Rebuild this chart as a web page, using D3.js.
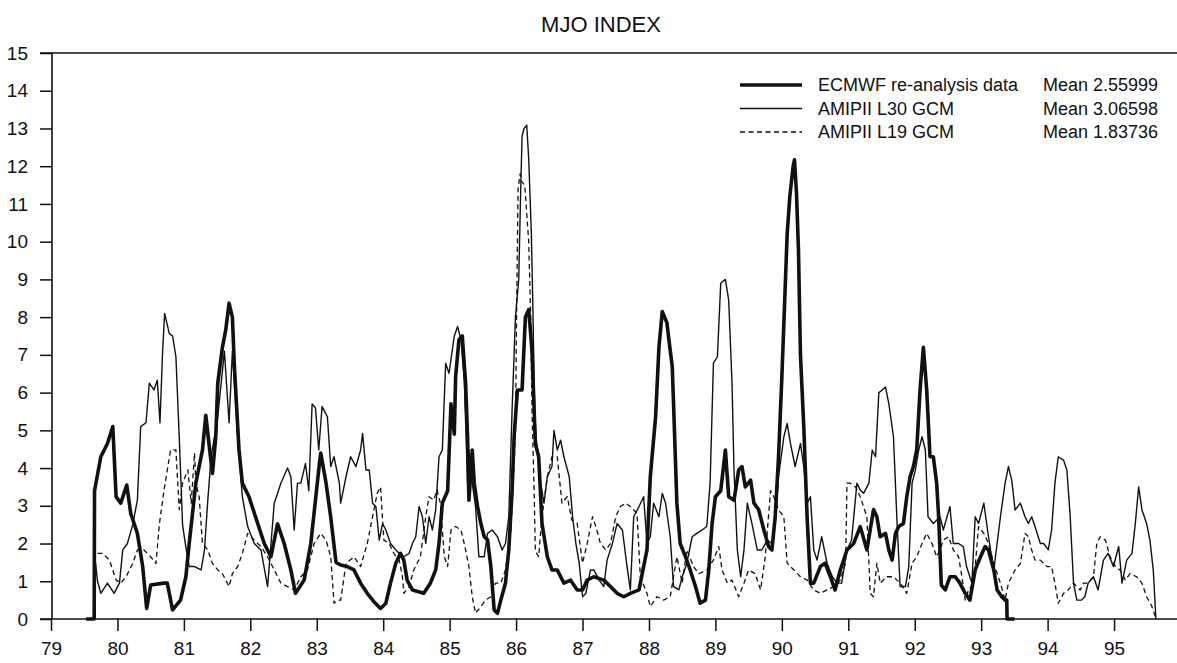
<!DOCTYPE html>
<html>
<head>
<meta charset="utf-8">
<script src="https://cdn.jsdelivr.net/npm/d3@7"></script>
<style>
  body { margin: 0; background: #fff; }
  text { font-family: "Liberation Sans", Arial, sans-serif; fill: #111; }
</style>
</head>
<body>
<div id="chart"></div>
<script>
// tick labels
var yTicks = d3.range(0, 16);
var xTicks = d3.range(79, 96);

// legend
var seriesNames = ["ECMWF re-analysis data", "AMIPII L30 GCM", "AMIPII L19 GCM"];
var seriesMeans = ["Mean 2.55999", "Mean 3.06598", "Mean 1.83736"];

// [year, index]
var ecmwf = [[79.53,0],[79.65,0],[79.655,3.4],[79.75,4.3],[79.85,4.65],[79.93,5.1],[79.98,3.24],[80.05,3.07],[80.14,3.55],[80.20,2.8],[80.30,2.27],[80.38,1.39],[80.44,0.28],[80.50,0.9],[80.70,0.95],[80.75,0.95],[80.83,0.24],[80.95,0.5],[81.03,1.12],[81.08,2.0],[81.18,3.6],[81.28,4.48],[81.33,5.4],[81.40,4.3],[81.43,3.86],[81.48,4.83],[81.51,6.25],[81.58,7.2],[81.63,7.66],[81.68,8.37],[81.73,8.0],[81.76,6.7],[81.83,4.48],[81.88,3.6],[81.98,3.24],[82.08,2.7],[82.21,2.0],[82.31,1.65],[82.41,2.52],[82.51,2.0],[82.61,1.3],[82.68,0.68],[82.81,1.03],[82.91,2.0],[83.04,4.12],[83.06,4.4],[83.14,3.6],[83.21,2.7],[83.29,1.5],[83.36,1.43],[83.46,1.39],[83.56,1.3],[83.66,0.95],[83.76,0.68],[83.86,0.46],[83.96,0.28],[84.04,0.42],[84.11,0.95],[84.19,1.48],[84.26,1.74],[84.31,1.56],[84.36,1.03],[84.44,0.77],[84.61,0.68],[84.71,0.95],[84.79,1.3],[84.84,2.0],[84.89,3.07],[84.97,3.4],[85.02,5.7],[85.07,4.9],[85.09,6.42],[85.14,7.4],[85.19,7.5],[85.24,6.25],[85.27,4.83],[85.29,3.15],[85.34,4.48],[85.37,3.6],[85.42,2.98],[85.47,2.53],[85.52,2.18],[85.57,2.1],[85.62,1.39],[85.67,0.24],[85.72,0.15],[85.77,0.5],[85.84,0.95],[85.89,1.83],[85.94,3.4],[85.97,4.83],[86.02,6.07],[86.09,6.07],[86.14,8.0],[86.19,8.2],[86.24,7.1],[86.29,4.65],[86.34,4.3],[86.39,2.53],[86.47,1.65],[86.54,1.3],[86.62,1.3],[86.72,0.95],[86.82,1.03],[86.92,0.77],[87.00,0.77],[87.07,1.03],[87.17,1.12],[87.32,1.03],[87.42,0.86],[87.52,0.68],[87.62,0.59],[87.72,0.68],[87.85,0.77],[87.87,0.95],[87.97,1.83],[88.02,3.77],[88.10,5.36],[88.15,7.2],[88.20,8.15],[88.27,7.85],[88.30,7.4],[88.35,6.7],[88.37,5.7],[88.42,3.07],[88.47,2.0],[88.55,1.65],[88.62,1.3],[88.70,0.86],[88.77,0.42],[88.85,0.5],[88.90,1.3],[88.95,2.53],[89.00,3.24],[89.08,3.4],[89.15,4.48],[89.20,3.24],[89.28,3.15],[89.35,3.95],[89.40,4.04],[89.45,3.5],[89.53,3.68],[89.58,3.07],[89.65,2.9],[89.73,2.36],[89.80,1.92],[89.85,1.83],[89.90,2.71],[89.95,4.3],[90.00,6.4],[90.04,8.3],[90.08,10.2],[90.12,11.2],[90.17,12.0],[90.19,12.17],[90.22,11.3],[90.25,9.78],[90.28,7.0],[90.33,5.1],[90.38,2.7],[90.43,0.95],[90.48,0.95],[90.58,1.39],[90.65,1.48],[90.73,1.12],[90.80,0.77],[90.88,1.3],[90.98,1.83],[91.08,2.0],[91.18,2.45],[91.28,1.83],[91.38,2.9],[91.43,2.71],[91.48,2.18],[91.56,2.27],[91.61,1.83],[91.66,1.56],[91.71,2.27],[91.76,2.45],[91.83,2.53],[91.88,3.24],[91.93,3.77],[91.98,4.04],[92.03,4.48],[92.08,6.07],[92.13,7.2],[92.18,6.07],[92.23,4.3],[92.28,4.3],[92.33,3.6],[92.36,2.7],[92.40,0.9],[92.46,0.77],[92.53,1.12],[92.61,1.12],[92.68,0.95],[92.76,0.68],[92.83,0.5],[92.91,1.3],[92.99,1.65],[93.06,1.92],[93.11,1.83],[93.19,1.3],[93.24,0.77],[93.31,0.59],[93.36,0.5],[93.385,0.5],[93.39,0],[93.5,0]];

var l30 = [[79.66,0],[79.67,1.5],[79.70,1.0],[79.75,0.68],[79.85,0.95],[79.95,0.68],[80.03,0.95],[80.08,1.83],[80.15,2.0],[80.23,2.5],[80.30,3.15],[80.35,5.1],[80.43,5.2],[80.48,6.25],[80.55,6.07],[80.60,6.33],[80.64,5.2],[80.68,7.1],[80.71,8.1],[80.78,7.57],[80.83,7.5],[80.88,6.95],[80.93,4.83],[80.98,2.5],[81.03,1.9],[81.08,1.39],[81.16,1.39],[81.26,1.3],[81.31,1.83],[81.36,3.15],[81.41,4.3],[81.51,5.36],[81.61,7.1],[81.68,5.2],[81.73,7.1],[81.81,4.83],[81.88,3.24],[81.96,2.45],[82.06,2.0],[82.16,1.83],[82.26,0.86],[82.36,3.07],[82.46,3.6],[82.56,4.0],[82.61,3.77],[82.66,2.36],[82.71,3.6],[82.76,3.6],[82.83,4.12],[82.88,3.4],[82.93,5.7],[82.98,5.6],[83.03,4.48],[83.08,5.63],[83.16,5.36],[83.21,4.04],[83.26,4.3],[83.34,3.6],[83.36,3.07],[83.44,3.77],[83.51,4.3],[83.59,4.04],[83.66,4.48],[83.69,4.92],[83.74,3.95],[83.79,3.95],[83.84,3.07],[83.89,2.98],[83.94,2.09],[83.99,2.53],[84.04,2.36],[84.11,2.0],[84.19,1.83],[84.24,1.74],[84.31,1.65],[84.39,1.74],[84.44,2.0],[84.49,2.18],[84.54,2.98],[84.59,2.71],[84.64,2.0],[84.69,2.71],[84.74,2.36],[84.79,2.89],[84.84,4.3],[84.89,4.48],[84.94,6.78],[84.99,6.51],[85.07,7.5],[85.12,7.75],[85.17,7.4],[85.22,6.33],[85.27,3.6],[85.29,4.48],[85.34,3.6],[85.39,2.98],[85.44,1.65],[85.52,1.65],[85.57,2.27],[85.64,2.36],[85.72,2.18],[85.79,1.83],[85.84,2.0],[85.89,2.71],[85.94,5.54],[85.99,8.0],[86.04,9.0],[86.07,11.4],[86.09,12.8],[86.12,13.0],[86.16,13.09],[86.19,12.2],[86.23,10.2],[86.25,8.5],[86.28,5.5],[86.30,4.83],[86.37,3.6],[86.42,3.07],[86.47,3.77],[86.54,4.04],[86.57,5.0],[86.62,4.48],[86.67,4.74],[86.72,4.3],[86.80,3.77],[86.85,2.71],[86.90,2.0],[86.95,1.48],[87.00,0.59],[87.05,0.68],[87.12,1.3],[87.17,1.3],[87.25,1.03],[87.32,0.86],[87.37,1.56],[87.45,2.0],[87.52,2.53],[87.60,2.36],[87.67,1.39],[87.72,0.77],[87.77,2.71],[87.85,2.98],[87.92,3.24],[87.97,2.0],[88.02,2.18],[88.07,3.07],[88.15,2.71],[88.20,3.33],[88.25,3.07],[88.32,2.18],[88.37,0.86],[88.45,0.77],[88.50,1.12],[88.57,1.48],[88.65,2.18],[88.72,2.27],[88.80,2.36],[88.87,2.45],[88.92,3.6],[88.97,6.78],[89.03,6.95],[89.08,8.9],[89.15,9.0],[89.20,8.45],[89.25,6.25],[89.28,3.95],[89.33,1.83],[89.38,1.12],[89.43,1.83],[89.48,3.07],[89.55,2.53],[89.63,1.83],[89.70,1.83],[89.78,2.09],[89.85,2.0],[89.90,2.53],[89.95,3.77],[90.03,4.83],[90.08,5.18],[90.13,4.65],[90.20,4.04],[90.28,4.65],[90.33,4.04],[90.38,3.07],[90.43,3.24],[90.48,1.83],[90.53,1.56],[90.60,2.18],[90.68,1.48],[90.76,1.12],[90.83,0.95],[90.90,0.95],[90.98,1.83],[91.05,2.1],[91.13,3.6],[91.18,3.42],[91.23,3.33],[91.31,3.6],[91.36,4.48],[91.41,4.3],[91.46,6.0],[91.51,6.07],[91.56,6.15],[91.61,5.71],[91.68,4.83],[91.73,2.71],[91.78,0.86],[91.86,0.86],[91.91,1.39],[91.96,3.6],[92.01,3.95],[92.06,4.48],[92.11,4.83],[92.16,4.48],[92.20,2.71],[92.28,2.53],[92.38,2.71],[92.43,2.36],[92.53,2.98],[92.58,2.0],[92.66,2.0],[92.73,1.92],[92.78,1.39],[92.86,0.95],[92.91,2.71],[92.96,2.53],[93.04,3.07],[93.11,2.18],[93.19,1.3],[93.24,2.0],[93.29,2.71],[93.36,3.6],[93.41,4.04],[93.46,3.68],[93.51,2.89],[93.59,3.07],[93.66,2.71],[93.71,2.53],[93.76,2.71],[93.81,2.45],[93.89,2.0],[93.94,2.0],[94.01,1.83],[94.06,2.36],[94.11,3.6],[94.16,4.3],[94.24,4.21],[94.29,3.95],[94.34,2.71],[94.39,0.95],[94.44,0.5],[94.51,0.5],[94.56,0.59],[94.61,0.95],[94.69,1.12],[94.76,0.77],[94.84,1.56],[94.91,1.74],[94.99,1.39],[95.07,1.92],[95.12,0.95],[95.19,1.56],[95.27,1.74],[95.32,2.53],[95.37,3.5],[95.42,2.89],[95.49,2.53],[95.54,2.09],[95.59,1.3],[95.63,0]];

var l19 = [[79.70,1.74],[79.78,1.74],[79.88,1.56],[79.98,1.03],[80.05,0.95],[80.13,1.12],[80.23,1.47],[80.30,1.83],[80.40,1.83],[80.50,1.65],[80.58,1.47],[80.63,2.5],[80.70,3.4],[80.80,4.48],[80.88,4.48],[80.93,2.9],[80.98,3.6],[81.06,3.95],[81.11,3.07],[81.16,4.4],[81.18,3.6],[81.23,3.24],[81.28,2.0],[81.36,1.83],[81.43,1.47],[81.51,1.3],[81.58,1.2],[81.68,0.86],[81.73,1.2],[81.81,1.39],[81.88,1.74],[81.96,2.27],[82.06,2.09],[82.16,1.92],[82.26,1.65],[82.36,1.3],[82.46,0.95],[82.56,0.86],[82.66,0.77],[82.76,1.12],[82.86,1.3],[82.96,2.0],[83.06,2.27],[83.14,2.09],[83.21,1.65],[83.26,0.42],[83.31,0.5],[83.36,0.5],[83.44,1.47],[83.56,1.65],[83.66,1.39],[83.76,2.0],[83.84,2.71],[83.91,3.33],[83.96,3.5],[84.01,2.09],[84.09,2.0],[84.16,1.74],[84.24,1.56],[84.29,1.12],[84.31,0.68],[84.39,0.86],[84.46,1.3],[84.56,1.65],[84.64,2.71],[84.69,3.24],[84.76,3.15],[84.81,3.42],[84.86,3.07],[84.92,1.65],[84.97,1.39],[85.02,2.36],[85.09,2.45],[85.17,2.36],[85.22,2.0],[85.29,1.39],[85.34,0.59],[85.39,0.15],[85.47,0.33],[85.54,0.5],[85.62,0.59],[85.69,0.95],[85.77,0.95],[85.84,1.3],[85.92,2.27],[85.97,4.12],[85.99,5.0],[86.01,8.5],[86.03,11.4],[86.06,11.8],[86.08,11.6],[86.13,11.5],[86.19,10.0],[86.22,8.0],[86.24,5.5],[86.27,3.5],[86.29,1.8],[86.34,1.65],[86.39,2.71],[86.47,3.77],[86.54,4.3],[86.62,4.3],[86.69,3.07],[86.77,3.24],[86.84,2.62],[86.92,2.53],[87.00,1.48],[87.07,2.0],[87.15,2.71],[87.20,2.45],[87.27,2.0],[87.35,1.83],[87.42,2.0],[87.50,2.71],[87.57,2.98],[87.65,3.07],[87.72,2.98],[87.82,2.8],[87.87,1.12],[87.97,0.68],[88.02,0.33],[88.12,0.59],[88.22,0.5],[88.32,0.59],[88.42,1.65],[88.50,0.95],[88.57,1.83],[88.67,1.39],[88.75,1.2],[88.87,1.3],[88.97,1.56],[89.05,1.92],[89.10,1.3],[89.18,0.95],[89.25,1.03],[89.35,0.59],[89.43,0.95],[89.50,1.3],[89.60,1.2],[89.68,0.77],[89.75,1.65],[89.83,3.4],[89.88,3.24],[89.95,2.89],[90.03,2.71],[90.08,1.48],[90.18,1.3],[90.28,1.12],[90.38,1.03],[90.48,0.77],[90.58,0.68],[90.68,0.77],[90.78,0.86],[90.88,1.03],[90.96,1.5],[90.98,3.6],[91.03,3.6],[91.11,3.5],[91.18,3.24],[91.28,2.71],[91.33,0.68],[91.38,0.59],[91.43,1.48],[91.48,0.95],[91.58,1.12],[91.68,1.12],[91.78,0.95],[91.88,0.68],[91.96,1.48],[92.03,1.65],[92.11,2.0],[92.18,2.27],[92.26,2.0],[92.33,1.65],[92.38,1.83],[92.43,2.09],[92.51,2.18],[92.58,1.83],[92.66,1.65],[92.71,1.12],[92.76,0.5],[92.81,0.77],[92.89,0.95],[92.96,2.45],[93.04,2.27],[93.11,2.0],[93.19,1.47],[93.29,0.95],[93.36,0.5],[93.41,0.95],[93.51,1.3],[93.59,1.47],[93.66,2.27],[93.71,2.18],[93.76,1.83],[93.81,1.56],[93.89,1.56],[93.99,1.39],[94.06,1.39],[94.11,0.95],[94.16,0.42],[94.24,0.68],[94.31,0.77],[94.39,0.95],[94.44,0.86],[94.49,0.77],[94.54,0.95],[94.61,0.95],[94.69,1.12],[94.74,2.0],[94.79,2.18],[94.87,2.09],[94.94,1.65],[95.02,1.39],[95.09,1.3],[95.17,1.03],[95.24,1.2],[95.34,1.12],[95.42,0.95],[95.49,0.59],[95.57,0.33],[95.62,0.06]];

var W = 1177, H = 663;

var svg = d3.select("#chart")
  .append("svg")
    .attr("width", W)
    .attr("height", H);

var x = d3.scaleLinear()
    .domain([79, 96])
    .range([51, 1180.5]);

var y = d3.scaleLinear()
    .domain([0, 15])
    .range([619, 53]);

// title
svg.append("text")
    .attr("x", 601)
    .attr("y", 32)
    .attr("text-anchor", "middle")
    .style("font-size", "22px")
    .text("MJO INDEX");

// y axis, ticks stick out to the left
var yAxis = svg.append("g")
    .attr("transform", "translate(52,0)")
    .call(d3.axisLeft(y).tickValues(yTicks).tickSize(12).tickSizeOuter(0).tickPadding(12));

// x axis, ticks hang below
var xAxis = svg.append("g")
    .attr("transform", "translate(0,619)")
    .call(d3.axisBottom(x).tickValues(xTicks).tickSize(12).tickSizeOuter(0).tickPadding(11));

svg.selectAll(".tick text").style("font-size", "19px").attr("fill", "#111");
svg.selectAll(".tick line").attr("stroke", "#111").attr("stroke-width", 1.5);
svg.selectAll(".domain").remove();

// frame lines: left, bottom and top
svg.append("line").attr("x1", 52).attr("x2", 52).attr("y1", y(15)).attr("y2", y(0))
    .attr("stroke", "#111").attr("stroke-width", 1.6);
svg.append("line").attr("x1", 40).attr("x2", W).attr("y1", y(0)).attr("y2", y(0))
    .attr("stroke", "#111").attr("stroke-width", 1.6);
svg.append("line").attr("x1", 40).attr("x2", W).attr("y1", y(15)).attr("y2", y(15))
    .attr("stroke", "#111").attr("stroke-width", 1.6);

var line = d3.line()
    .x(function(d) { return x(d[0]); })
    .y(function(d) { return y(d[1]); });

var styles = [
  {w: 3.6, dash: null},
  {w: 1.4, dash: null},
  {w: 1.3, dash: "5,3.5"}
];

var allSeries = [l19, l30, ecmwf];
var order = [2, 1, 0];

allSeries.forEach(function(s, i) {
    var st = styles[order[i]];
    svg.append("path")
        .datum(s)
        .attr("d", line)
        .attr("fill", "none")
        .attr("stroke", "#111")
        .attr("stroke-width", st.w)
        .attr("stroke-linejoin", "round")
        .attr("stroke-dasharray", st.dash);
});

// legend
var legend = svg.append("g");
seriesNames.forEach(function(name, i) {
    var ly = 85 + i * 23.5;
    legend.append("line")
        .attr("x1", 740).attr("x2", 802)
        .attr("y1", ly).attr("y2", ly)
        .attr("stroke", "#111")
        .attr("stroke-width", styles[i].w)
        .attr("stroke-dasharray", styles[i].dash);
    legend.append("text")
        .attr("x", 818).attr("y", ly + 6)
        .style("font-size", "18px")
        .text(name);
    legend.append("text")
        .attr("x", 1043).attr("y", ly + 6)
        .style("font-size", "18px")
        .text(seriesMeans[i]);
});
</script>
</body>
</html>
